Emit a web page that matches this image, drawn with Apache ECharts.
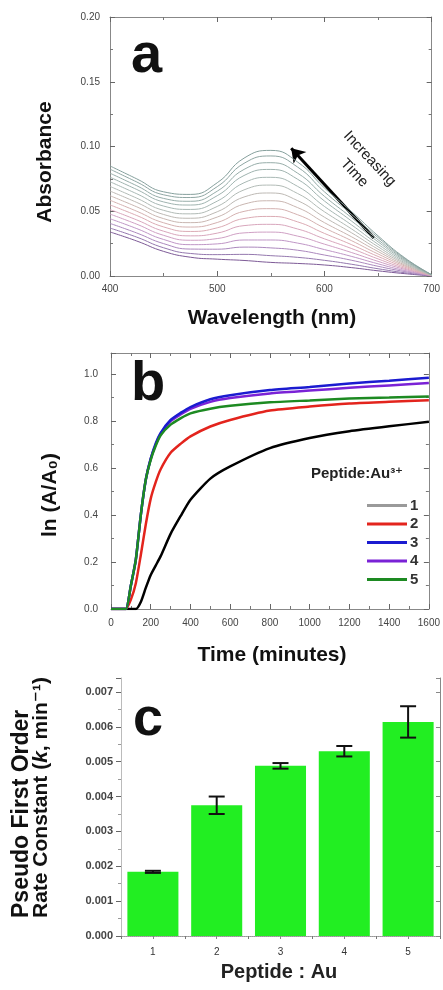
<!DOCTYPE html>
<html>
<head>
<meta charset="utf-8">
<script src="https://cdn.jsdelivr.net/npm/echarts@6/dist/echarts.min.js"></script>
<style>
  html, body { margin: 0; padding: 0; background: #fff; }
  #chart { width: 443px; height: 990px; }
</style>
</head>
<body>
<div id="chart"></div>
<script>
// ---- Panel a: UV-vis spectra recorded over time ----
const wavelengths = [400, 425, 450, 475, 500, 525, 550, 575, 600, 625, 650, 675, 700];
const scan01 = [0.0340, 0.0270, 0.0190, 0.0145, 0.0130, 0.0120, 0.0105, 0.0097, 0.0085, 0.0065, 0.0040, 0.0018, 0.0000];
const scan02 = [0.0370, 0.0300, 0.0218, 0.0174, 0.0165, 0.0167, 0.0157, 0.0144, 0.0121, 0.0091, 0.0056, 0.0025, 0.0001];
const scan03 = [0.0406, 0.0332, 0.0250, 0.0208, 0.0207, 0.0223, 0.0217, 0.0199, 0.0162, 0.0122, 0.0075, 0.0034, 0.0001];
const scan04 = [0.0442, 0.0366, 0.0282, 0.0242, 0.0248, 0.0278, 0.0278, 0.0254, 0.0204, 0.0152, 0.0094, 0.0042, 0.0002];
const scan05 = [0.0478, 0.0400, 0.0314, 0.0276, 0.0289, 0.0333, 0.0339, 0.0308, 0.0246, 0.0182, 0.0113, 0.0051, 0.0003];
const scan06 = [0.0513, 0.0433, 0.0346, 0.0310, 0.0331, 0.0389, 0.0399, 0.0363, 0.0287, 0.0213, 0.0132, 0.0059, 0.0003];
const scan07 = [0.0549, 0.0467, 0.0379, 0.0344, 0.0372, 0.0444, 0.0460, 0.0418, 0.0329, 0.0243, 0.0151, 0.0068, 0.0004];
const scan08 = [0.0585, 0.0500, 0.0411, 0.0378, 0.0413, 0.0499, 0.0520, 0.0473, 0.0371, 0.0274, 0.0170, 0.0077, 0.0005];
const scan09 = [0.0620, 0.0534, 0.0443, 0.0412, 0.0455, 0.0555, 0.0581, 0.0528, 0.0412, 0.0304, 0.0189, 0.0085, 0.0006];
const scan10 = [0.0656, 0.0568, 0.0475, 0.0446, 0.0496, 0.0610, 0.0641, 0.0582, 0.0454, 0.0335, 0.0207, 0.0094, 0.0006];
const scan11 = [0.0692, 0.0601, 0.0507, 0.0480, 0.0537, 0.0665, 0.0702, 0.0637, 0.0496, 0.0365, 0.0226, 0.0102, 0.0007];
const scan12 = [0.0728, 0.0635, 0.0540, 0.0514, 0.0578, 0.0720, 0.0762, 0.0692, 0.0537, 0.0396, 0.0245, 0.0111, 0.0008];
const scan13 = [0.0763, 0.0668, 0.0572, 0.0548, 0.0620, 0.0776, 0.0823, 0.0747, 0.0579, 0.0426, 0.0264, 0.0119, 0.0008];
const scan14 = [0.0794, 0.0697, 0.0599, 0.0577, 0.0655, 0.0823, 0.0875, 0.0794, 0.0615, 0.0452, 0.0280, 0.0127, 0.0009];
const scan15 = [0.0825, 0.0726, 0.0627, 0.0606, 0.0690, 0.0870, 0.0927, 0.0841, 0.0650, 0.0478, 0.0297, 0.0134, 0.0010];
const scan16 = [0.0850, 0.0750, 0.0650, 0.0630, 0.0720, 0.0910, 0.0970, 0.0880, 0.0680, 0.0500, 0.0310, 0.0140, 0.0010];
const scans = [scan01, scan02, scan03, scan04, scan05, scan06, scan07, scan08,
               scan09, scan10, scan11, scan12, scan13, scan14, scan15, scan16];

// ---- Panel b: ln(A/A0) kinetics for each peptide:Au ratio ----
const timeMin = [0, 50, 75, 100, 125, 150, 175, 200, 225, 250, 300, 350, 400, 500, 600, 800, 1000, 1200, 1400, 1600];
const lnRatio1 = [0, 0, 0, 0, 0, 0.030, 0.090, 0.145, 0.185, 0.225, 0.320, 0.395, 0.465, 0.555, 0.607, 0.685, 0.728, 0.757, 0.778, 0.797];
const lnRatio2 = [0, 0, 0, 0.040, 0.110, 0.230, 0.360, 0.470, 0.540, 0.595, 0.665, 0.703, 0.735, 0.777, 0.805, 0.845, 0.862, 0.875, 0.882, 0.889];
const lnRatio3 = [0, 0, 0, 0.100, 0.210, 0.400, 0.550, 0.640, 0.705, 0.750, 0.805, 0.835, 0.860, 0.893, 0.910, 0.932, 0.945, 0.960, 0.972, 0.985];
const lnRatio4 = [0, 0, 0, 0.100, 0.210, 0.400, 0.550, 0.640, 0.700, 0.745, 0.800, 0.828, 0.852, 0.882, 0.898, 0.918, 0.930, 0.942, 0.952, 0.962];
const lnRatio5 = [0, 0, 0, 0.100, 0.210, 0.400, 0.550, 0.635, 0.695, 0.740, 0.785, 0.812, 0.833, 0.853, 0.865, 0.880, 0.888, 0.896, 0.900, 0.905];
const ratioNames = ['1', '2', '3', '4', '5'];

// ---- Panel c: pseudo first order rate constants ----
const peptideRatios = ['1', '2', '3', '4', '5'];
const rateK = [0.00184, 0.00375, 0.00488, 0.00530, 0.00614];
const rateErr = [0.00003, 0.00025, 0.00008, 0.00015, 0.00045];

// ---- styling ----
const FONT = "'Liberation Sans', Arial, 'DejaVu Sans', sans-serif";
const scanColors = ['#7d5a96', '#9478ae', '#ab88bd', '#bf96c6', '#cfa0c4', '#d8a6bc', '#dbabb4',
                    '#d4b1b0', '#c9b6b1', '#bdb9b4', '#b2bbb6', '#a8b8b4', '#9fb3af', '#97ada9',
                    '#8fa6a3', '#86a09d'];
const kineticColors = ['#000000', '#e3241d', '#1b1bd0', '#7a22d6', '#1d8a22'];
const axisGray = '#888';

function pairs(xs, ys) { return xs.map((x, i) => [x, ys[i]]); }

function valueAxis(opts) {
  const mirror = !!opts.mirror;
  return Object.assign({
    type: 'value',
    axisLine: { show: true, onZero: false, lineStyle: { color: axisGray, width: 1 } },
    axisTick: { show: true, inside: true, length: 5, lineStyle: { color: '#666' } },
    minorTick: { show: true, splitNumber: 2, length: 3, lineStyle: { color: '#777' } },
    splitLine: { show: false },
    axisLabel: mirror ? { show: false } : {
      fontFamily: FONT, fontSize: 10, color: '#444'
    }
  }, opts.base);
}

const series = [];

// spectra
scans.forEach((s, i) => {
  const item = {
    type: 'line',
    name: 'scan' + (i + 1),
    xAxisIndex: 0, yAxisIndex: 0,
    data: pairs(wavelengths, s),
    smooth: 0.5,
    symbol: 'none',
    lineStyle: { width: 1, color: scanColors[i] },
    silent: true,
    z: 2 + i
  };
  if (i === scans.length - 1) {
    item.markLine = {
      silent: true,
      symbol: ['none', 'arrow'],
      symbolSize: 13,
      label: { show: false },
      lineStyle: { color: '#000', width: 3, type: 'solid' },
      data: [[{ coord: [646, 0.0293] }, { coord: [569, 0.0986] }]]
    };
  }
  series.push(item);
});

// kinetics
[lnRatio1, lnRatio2, lnRatio3, lnRatio4, lnRatio5].forEach((s, i) => {
  series.push({
    type: 'line',
    name: ratioNames[i],
    xAxisIndex: 2, yAxisIndex: 2,
    data: pairs(timeMin, s),
    smooth: 0.2,
    symbol: 'none',
    lineStyle: { width: 2.5, color: kineticColors[i] },
    itemStyle: { color: kineticColors[i] },
    z: 10 + (i === 2 ? 4 : i)
  });
});

// rate constant bars
series.push({
  type: 'bar',
  name: 'rate',
  xAxisIndex: 4, yAxisIndex: 4,
  data: rateK,
  barCategoryGap: '20%',
  itemStyle: { color: '#22ee22' },
  silent: true,
  z: 3
});
series.push({
  type: 'custom',
  name: 'rateError',
  xAxisIndex: 4, yAxisIndex: 4,
  data: rateK.map((v, i) => [i, v - rateErr[i], v + rateErr[i]]),
  silent: true,
  z: 5,
  renderItem: function (params, api) {
    const lo = api.coord([api.value(0), api.value(1)]);
    const hi = api.coord([api.value(0), api.value(2)]);
    const half = 8;
    const st = { stroke: '#111', lineWidth: 2 };
    return {
      type: 'group',
      children: [
        { type: 'line', shape: { x1: lo[0], y1: lo[1], x2: hi[0], y2: hi[1] }, style: st },
        { type: 'line', shape: { x1: lo[0] - half, y1: lo[1], x2: lo[0] + half, y2: lo[1] }, style: st },
        { type: 'line', shape: { x1: hi[0] - half, y1: hi[1], x2: hi[0] + half, y2: hi[1] }, style: st }
      ]
    };
  }
});

const titleStyle = (text, size, weight) => ({
  text: text, font: (weight || 'bold') + ' ' + size + 'px ' + FONT, fill: '#111'
});

const plainNumber = v => String(v);

const option = {
  animation: false,
  backgroundColor: '#fff',
  grid: [
    { left: 110, top: 17, width: 323, height: 259 },
    { left: 111, top: 353, width: 322, height: 256 },
    { left: 121, top: 678, width: 319, height: 258 }
  ],
  xAxis: [
    valueAxis({ base: { gridIndex: 0, min: 400, max: 700, interval: 100, position: 'bottom',
      axisLabel: { fontFamily: FONT, fontSize: 10, color: '#444', margin: 8, formatter: plainNumber } } }),
    valueAxis({ mirror: true, base: { gridIndex: 0, min: 400, max: 700, interval: 100, position: 'top' } }),
    valueAxis({ base: { gridIndex: 1, min: 0, max: 1600, interval: 200, position: 'bottom',
      axisLabel: { fontFamily: FONT, fontSize: 10, color: '#444', margin: 9, formatter: plainNumber } } }),
    valueAxis({ mirror: true, base: { gridIndex: 1, min: 0, max: 1600, interval: 200, position: 'top' } }),
    {
      type: 'category', gridIndex: 2, data: peptideRatios, position: 'bottom',
      axisLine: { show: true, lineStyle: { color: '#777' } },
      axisTick: { show: true, inside: false, length: 3, lineStyle: { color: '#777' } },
      axisLabel: { fontFamily: FONT, fontSize: 10, color: '#333', margin: 11 }
    },
    {
      type: 'category', gridIndex: 2, data: peptideRatios, position: 'top',
      axisLine: { show: true, lineStyle: { color: '#aaa', type: 'dotted' } },
      axisTick: { show: true, inside: true, length: 3, alignWithLabel: true, lineStyle: { color: '#888' } },
      axisLabel: { show: false }
    }
  ],
  yAxis: [
    valueAxis({ base: { gridIndex: 0, min: 0, max: 0.2, interval: 0.05, position: 'left',
      axisLabel: { fontFamily: FONT, fontSize: 10, color: '#444', margin: 10,
        formatter: v => v.toFixed(2) } } }),
    valueAxis({ mirror: true, base: { gridIndex: 0, min: 0, max: 0.2, interval: 0.05, position: 'right' } }),
    valueAxis({ base: { gridIndex: 1, min: 0, max: 1.09, interval: 0.2, position: 'left',
      axisLabel: { fontFamily: FONT, fontSize: 10, color: '#444', margin: 13, showMaxLabel: false,
        formatter: v => v.toFixed(1) } } }),
    valueAxis({ mirror: true, base: { gridIndex: 1, min: 0, max: 1.09, interval: 0.2, position: 'right' } }),
    {
      type: 'value', gridIndex: 2, min: 0, max: 0.0074, interval: 0.001, position: 'left',
      axisLine: { show: true, lineStyle: { color: '#bbb' } },
      axisTick: { show: true, inside: false, length: 5, lineStyle: { color: '#666' } },
      minorTick: { show: true, splitNumber: 2, length: 3, lineStyle: { color: '#999' } },
      splitLine: { show: false },
      axisLabel: { fontFamily: FONT, fontSize: 11, fontWeight: 'bold', color: '#444', margin: 8,
        showMaxLabel: false, formatter: v => v.toFixed(3) }
    },
    {
      type: 'value', gridIndex: 2, min: 0, max: 0.0074, interval: 0.001, position: 'right',
      axisLine: { show: true, lineStyle: { color: '#888' } },
      axisTick: { show: true, inside: true, length: 4, lineStyle: { color: '#888' } },
      splitLine: { show: false },
      axisLabel: { show: false }
    }
  ],
  legend: {
    orient: 'vertical',
    left: 362, top: 493,
    itemWidth: 40, itemHeight: 12, itemGap: 3.5,
    textStyle: { fontFamily: FONT, fontSize: 15, fontWeight: 'bold', color: '#333', padding: [0, 0, 0, -2] },
    data: ratioNames.map((n, i) => ({
      name: n,
      icon: 'path://M0,5 L40,5 L40,8 L0,8 Z',
      itemStyle: { color: i === 0 ? '#9a9a9a' : kineticColors[i] }
    }))
  },
  graphic: [
    // panel letters
    { type: 'text', left: 131, top: 29, style: titleStyle('a', 56) },
    { type: 'text', left: 131, top: 357, style: titleStyle('b', 56) },
    { type: 'text', left: 133, top: 693, style: titleStyle('c', 54) },
    // panel a annotations and titles
    { type: 'text', x: 362, y: 166, rotation: -47 * Math.PI / 180,
      style: { text: 'Increasing\nTime', font: '15px ' + FONT, fill: '#222', align: 'center',
        verticalAlign: 'middle', lineHeight: 21 } },
    { type: 'text', x: 45, y: 162, rotation: Math.PI / 2,
      style: Object.assign(titleStyle('Absorbance', 21), { align: 'center', verticalAlign: 'middle' }) },
    { type: 'text', x: 272, y: 318,
      style: Object.assign(titleStyle('Wavelength (nm)', 21), { align: 'center', verticalAlign: 'middle' }) },
    // panel b titles
    { type: 'text', x: 50, y: 495, rotation: Math.PI / 2,
      style: Object.assign(titleStyle('ln (A/A\u2080)', 21), { align: 'center', verticalAlign: 'middle' }) },
    { type: 'text', x: 272, y: 655,
      style: Object.assign(titleStyle('Time (minutes)', 21), { align: 'center', verticalAlign: 'middle' }) },
    { type: 'text', x: 357, y: 474,
      style: Object.assign(titleStyle('Peptide:Au\u00B3\u207A', 15), { align: 'center', verticalAlign: 'middle', fill: '#222' }) },
    // panel c titles
    { type: 'text', x: 22, y: 918, rotation: Math.PI / 2,
      style: Object.assign(titleStyle('Pseudo First Order', 23), { align: 'left', verticalAlign: 'middle' }) },
    { type: 'text', x: 41, y: 918, rotation: Math.PI / 2,
      style: {
        text: '{n|Rate Constant (}{i|k}{n|, min\u207B\u00B9)}',
        align: 'left', verticalAlign: 'middle',
        rich: {
          n: { fontFamily: FONT, fontSize: 21, fontWeight: 'bold', fill: '#111', color: '#111' },
          i: { fontFamily: FONT, fontSize: 21, fontWeight: 'bold', fontStyle: 'italic', fill: '#111', color: '#111' }
        }
      } },
    { type: 'text', x: 279, y: 972,
      style: Object.assign(titleStyle('Peptide : Au', 20), { align: 'center', verticalAlign: 'middle', fill: '#222' }) }
  ],
  series: series
};

const chart = echarts.init(document.getElementById('chart'), null, { renderer: 'canvas' });
chart.setOption(option);
</script>
</body>
</html>
